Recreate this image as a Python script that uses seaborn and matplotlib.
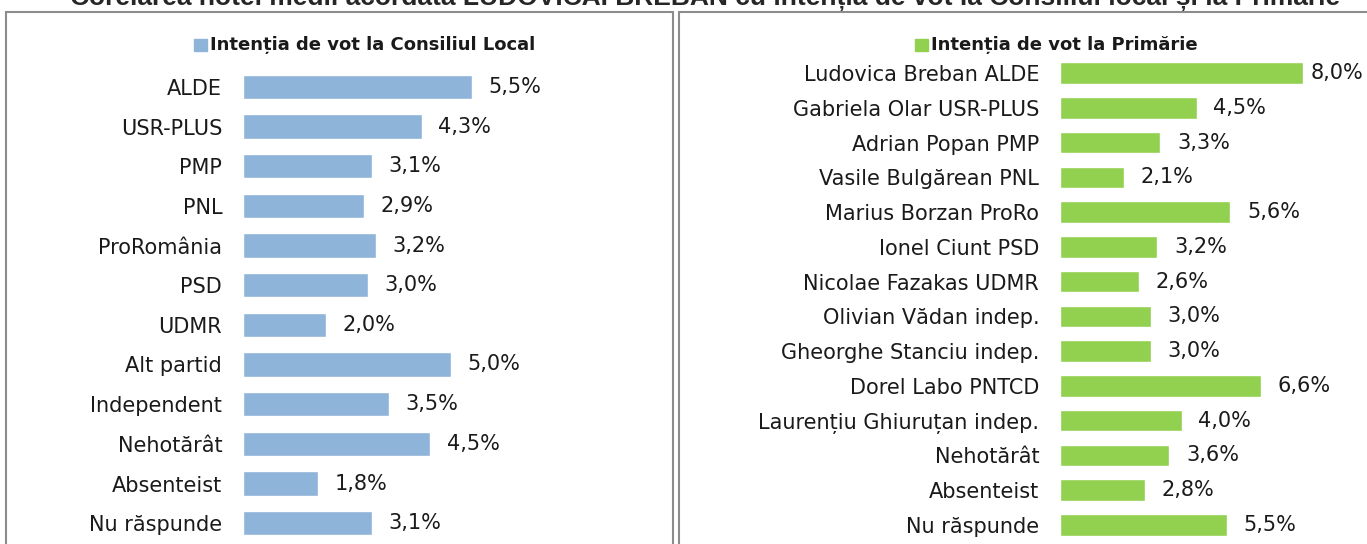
import matplotlib.pyplot as plt
import matplotlib.patches as mpatches
import seaborn as sns
import pandas as pd

partide = ['ALDE', 'USR-PLUS', 'PMP', 'PNL', 'ProRomânia', 'PSD', 'UDMR',
           'Alt partid', 'Independent', 'Nehotărât', 'Absenteist', 'Nu răspunde']
consiliu = [5.5, 4.3, 3.1, 2.9, 3.2, 3.0, 2.0, 5.0, 3.5, 4.5, 1.8, 3.1]

candidati = ['Ludovica Breban ALDE', 'Gabriela Olar USR-PLUS', 'Adrian Popan PMP',
             'Vasile Bulgărean PNL', 'Marius Borzan ProRo', 'Ionel Ciunt PSD',
             'Nicolae Fazakas UDMR', 'Olivian Vădan indep.', 'Gheorghe Stanciu indep.',
             'Dorel Labo PNTCD', 'Laurențiu Ghiuruțan indep.', 'Nehotărât',
             'Absenteist', 'Nu răspunde']
primarie = [8.0, 4.5, 3.3, 2.1, 5.6, 3.2, 2.6, 3.0, 3.0, 6.6, 4.0, 3.6, 2.8, 5.5]

titlu = ('Corelarea notei medii acordată LUDOVICAI BREBAN cu intenția de vot '
         'la Consiliul local și la Primărie')

sns.set_style('white')
plt.rcParams['font.family'] = ['DejaVu Sans']

W, H = 1367, 544
fig = plt.figure(figsize=(W / 100, H / 100), dpi=100)


def px_axes(left, top, right, bottom):
    return fig.add_axes([left / W, 1 - bottom / H, (right - left) / W, (bottom - top) / H])


# panel frames
for x0, x1 in [(6, 673), (679, 1380)]:
    fig.add_artist(mpatches.Rectangle((x0 / W, -0.05), (x1 - x0) / W, (H - 12) / H + 0.05,
                                      transform=fig.transFigure, fill=False,
                                      edgecolor='#8c8c8c', linewidth=1.5))

# title is partly outside the picture, like in the original screenshot
fig.text(705 / W, 1 - 5 / H, titlu, ha='center', va='baseline', fontsize=19,
         fontweight='bold', family=['Liberation Sans', 'DejaVu Sans'])


def panel(ax, cats, vals, color, xmax):
    df = pd.DataFrame({'cat': cats, 'val': vals})
    sns.barplot(data=df, x='val', y='cat', orient='h', color=color, width=0.62,
                saturation=1, ax=ax)
    ax.set_xlim(0, xmax)
    ax.set_ylim(len(cats) - 0.5, -0.5)
    ax.set_xlabel('')
    ax.set_ylabel('')
    ax.set_xticks([])
    sns.despine(ax=ax, left=True, bottom=True)
    ax.tick_params(axis='y', length=0, pad=15, labelsize=15, labelcolor='#1a1a1a')
    labels = ax.bar_label(ax.containers[0],
                          labels=[f'{v:.1f}%'.replace('.', ',') for v in vals],
                          padding=12, fontsize=15, color='#1a1a1a')
    ax.patch.set_alpha(0)
    return labels


axL = px_axes(243, 67, 534, 543)
panel(axL, partide, consiliu, '#8fb4d9', 7)

axR = px_axes(1060, 55.6, 1364, 542.4)
labR = panel(axR, candidati, primarie, '#92d050', 10)
labR[0].xyann = (5, 0)  # the longest bar's label sits tight at the edge

# legend-like headers
for x, label, color in [(194, 'Intenția de vot la Consiliul Local', '#8fb4d9'),
                        (915, 'Intenția de vot la Primărie', '#92d050')]:
    fig.add_artist(mpatches.Rectangle((x / W, 1 - 51 / H), 13 / W, 12 / H,
                                      transform=fig.transFigure, color=color))
    fig.text((x + 16) / W, 1 - 45 / H, label, ha='left', va='center',
             fontsize=13, fontweight='bold', color='#1a1a1a')

fig.savefig('out.png', dpi=100)
